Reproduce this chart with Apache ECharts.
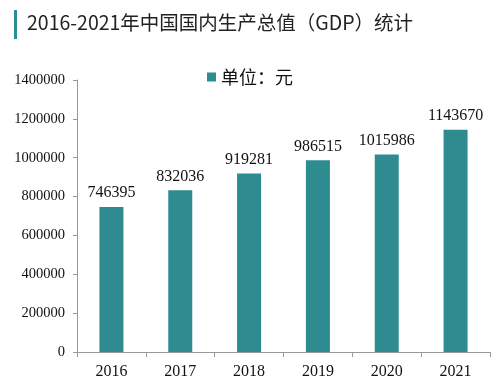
<!DOCTYPE html>
<html><head><meta charset="utf-8">
<script src="https://cdn.jsdelivr.net/npm/echarts@6/dist/echarts.min.js"></script>
<style>html,body{margin:0;padding:0;background:#fff;}#c{width:504px;height:386px;}</style>
</head><body><div id="c"></div>
<script>
const categories = ['2016','2017','2018','2019','2020','2021'];
const gdpValues = [746395, 832036, 919281, 986515, 1015986, 1143670];
const yTicks = [0, 200000, 400000, 600000, 800000, 1000000, 1200000, 1400000];
const titleText = '2016-2021年中国国内生产总值（GDP）统计';
const legendName = '单位：元';

const serif = '"Liberation Serif", "DejaVu Serif", serif';
const chart = echarts.init(document.getElementById('c'));
chart.setOption({
  animation: false,
  graphic: [
    {type:'rect', shape:{x:14, y:10, width:3, height:29}, style:{fill:'#2e8b8f'}},
    {type:'text', left:27, top:13, style:{text:titleText, font:'19.5px "Noto Sans CJK SC", "Open Sans", sans-serif', fill:'#222'}}
  ],
  legend: {
    data:[legendName], left:202, top:63, itemWidth:9, itemHeight:9, itemGap:6,
    textStyle:{fontSize:18, color:'#111', fontFamily:'"Noto Sans CJK SC", serif'},
    icon:'rect'
  },
  grid: {left:77, right:14, top:80, bottom:34},
  xAxis: {
    type:'category', data:categories,
    axisLine:{lineStyle:{color:'#999'}},
    axisTick:{show:true, length:5, lineStyle:{color:'#999'}},
    axisLabel:{color:'#111', fontSize:16, fontFamily:serif, margin:12}
  },
  yAxis: {
    type:'value', min:yTicks[0], max:yTicks[yTicks.length-1], interval:200000,
    axisLine:{show:true, lineStyle:{color:'#999'}},
    axisTick:{show:true, length:4, lineStyle:{color:'#999'}},
    splitLine:{show:false},
    axisLabel:{color:'#111', fontSize:14.5, fontFamily:serif, margin:12, formatter:v => String(v)}
  },
  series: [{
    name:legendName, type:'bar', data:gdpValues, barWidth:24,
    itemStyle:{color:'#2e8b8f'},
    label:{show:true, position:'top', distance:6, color:'#111', fontSize:16, fontFamily:serif}
  }]
});
</script></body></html>
